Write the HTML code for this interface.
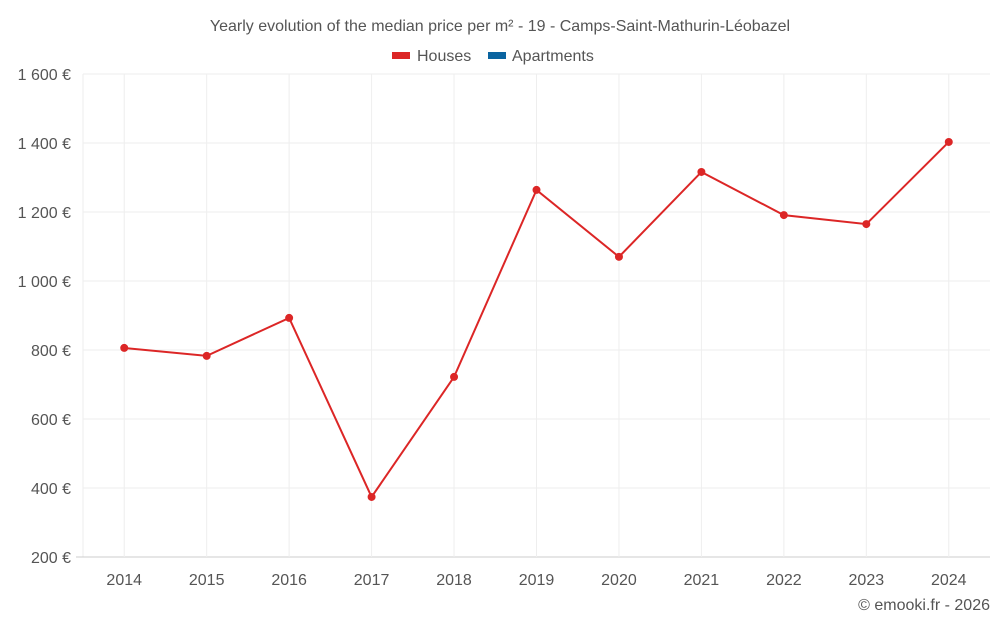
<!DOCTYPE html>
<html><head><meta charset="utf-8"><style>
body{margin:0;background:#fff;font-family:"Liberation Sans",Roboto,sans-serif;}
svg text{font-family:"Liberation Sans",sans-serif;fill:#555;}
</style></head><body>
<svg id="c" width="1000" height="625">
<text x="500" y="31" text-anchor="middle" font-size="16">Yearly evolution of the median price per m² - 19 - Camps-Saint-Mathurin-Léobazel</text>
<g>
<g><rect x="392" y="52" width="18" height="7" fill="#dc2626"/><text x="417" y="61" font-size="16">Houses</text></g>
<g><rect x="488" y="52" width="18" height="7" fill="#0a64a0"/><text x="512" y="61" font-size="16">Apartments</text></g>
</g>
<g id="grid"></g><g id="axes"></g><g id="series"></g>
<text x="990" y="610" text-anchor="end" font-size="16">© emooki.fr - 2026</text>
</svg>
<script>
const categories=["2014","2015","2016","2017","2018","2019","2020","2021","2022","2023","2024"];
const houses=[806,783,893,374,722,1264,1070,1316,1191,1165,1403];
const yTicks=[200,400,600,800,1000,1200,1400,1600];
const yLabels=["200 €","400 €","600 €","800 €","1 000 €","1 200 €","1 400 €","1 600 €"];
const L=83,R=990,T=74,B=557,ymin=200,ymax=1600;
const NS="http://www.w3.org/2000/svg";
const step=(R-L)/categories.length;
function x(i){return L+step*(i+0.5);}
function y(v){return B-(v-ymin)/(ymax-ymin)*(B-T);}
function mk(t,a,p){const e=document.createElementNS(NS,t);for(const k in a)e.setAttribute(k,a[k]);p.appendChild(e);return e;}
const g=document.getElementById('grid'),ax=document.getElementById('axes'),s=document.getElementById('series');
const l0=mk('line',{x1:L,x2:L,y1:T,y2:B,stroke:'#eee'},g);


yTicks.forEach((v,i)=>{
 const l=mk('line',{x1:v===ymin?76:L,x2:R,y1:y(v),y2:y(v),stroke:v===ymin?'#ccc':'#eee'},g);
 
 
 const t=mk('text',{x:71,y:y(v)+6,'text-anchor':'end','font-size':16},ax);t.textContent=yLabels[i];
 
 
});
categories.forEach((c,i)=>{
 const l=mk('line',{x1:x(i),x2:x(i),y1:T,y2:B,stroke:'#eee'},g);
 
 
 const t=mk('text',{x:x(i),y:585,'text-anchor':'middle','font-size':16},ax);t.textContent=c;
 
 
});
const p=mk('polyline',{points:houses.map((v,i)=>x(i)+','+y(v)).join(' '),fill:'none',stroke:'#dc2626','stroke-width':2},s);


houses.forEach((v,i)=>{
 const c=mk('circle',{cx:x(i),cy:y(v),r:4,fill:'#dc2626'},s);
 
 
});
</script>
</body></html>
